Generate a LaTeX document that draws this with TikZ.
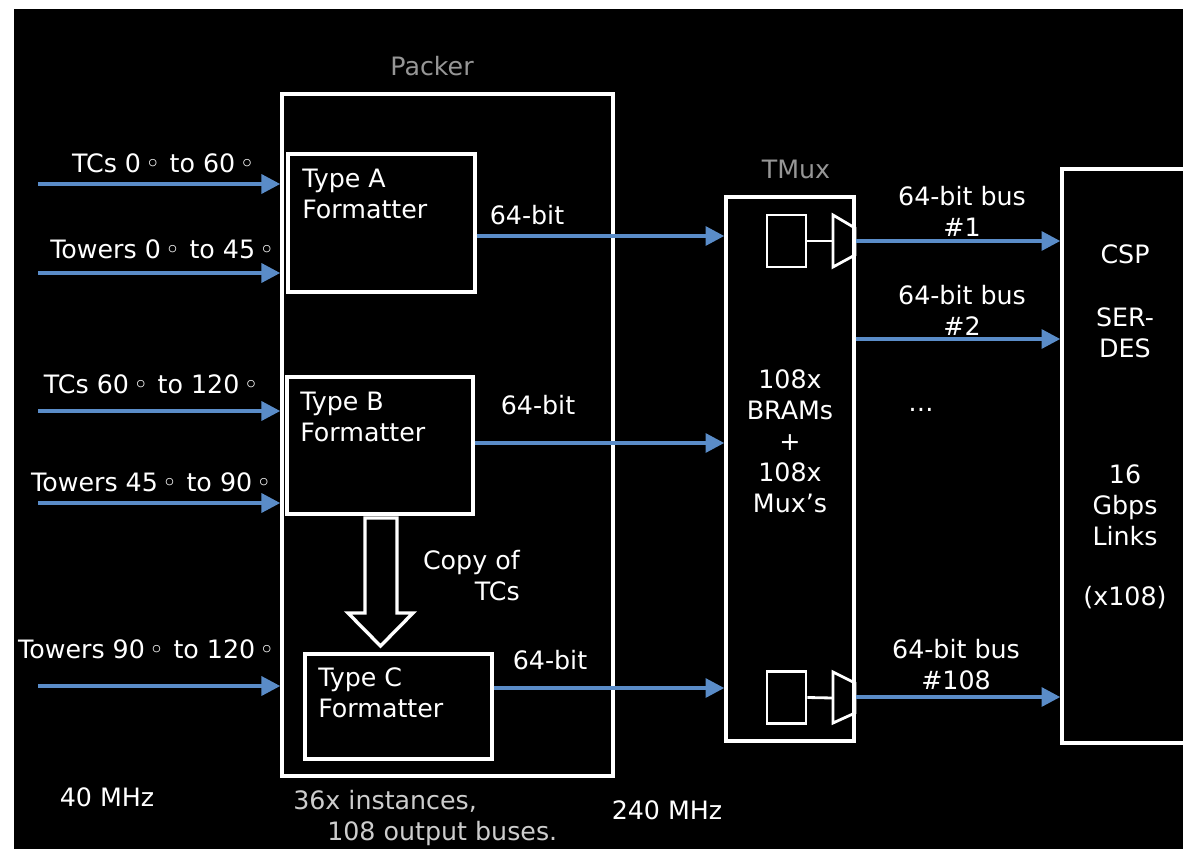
\documentclass[tikz,border=0pt]{standalone}
\usepackage{fontspec}
\setmainfont{DejaVu Sans}
\usetikzlibrary{arrows.meta}
\definecolor{busblue}{RGB}{90,140,200}
\definecolor{titlegray}{RGB}{150,150,150}
\definecolor{notegray}{RGB}{205,205,205}
\newcommand{\ringdeg}{\kern3pt◦\kern1pt}

\begin{document}
\begin{tikzpicture}[x=0.025cm, y=-0.025cm,
  font=\fontsize{18}{22}\selectfont, text=white,
  blk/.style={draw=white, line width=2.4pt, rectangle, inner sep=0pt},
  mem/.style={draw=white, line width=2pt, rectangle, inner sep=0pt, minimum width=0.975cm, minimum height=1.3cm},
  bus/.style={busblue, line width=2.8pt, -{Triangle[length=0.47cm, width=0.47cm]}},
  txt/.style={anchor=base, inner sep=0pt},
  ftxt/.style={anchor=base west, inner sep=0pt, align=left}]
\useasboundingbox (0,0) rectangle (1183,849);
\fill[white] (0,0) rectangle (1183,849);
\fill[black] (14,9) rectangle (1183,849);
\clip (0,0) rectangle (1183,849);

% packer and formatters
\node[blk, minimum width=8.275cm, minimum height=17.05cm] (packer) at (447.5,435) {};
\node[txt, text=titlegray] (packerlbl) at (432,75) {Packer};
\node[blk, minimum width=4.675cm, minimum height=3.45cm] (fmtA) at (381.5,223) {};
\node[blk, minimum width=4.65cm, minimum height=3.425cm] (fmtB) at (380,445.5) {};
\node[blk, minimum width=4.675cm, minimum height=2.625cm] (fmtC) at (398.5,706.5) {};
\node[ftxt] (fmtAtxt) at (302,218) {Type A\\Formatter};
\node[ftxt] (fmtBtxt) at (300,441) {Type B\\Formatter};
\node[ftxt] (fmtCtxt) at (318,717) {Type C\\Formatter};
\draw[white, line width=2.4pt, fill=black] (365,518) -- (397,518) -- (397,613) -- (413,613)
  -- (380.5,646) -- (348,613) -- (365,613) -- cycle;
\node[anchor=base east, inner sep=0pt, align=right] (copylbl) at (520,600) {Copy of\\TCs};

% inputs
\coordinate (in1) at (38,184);
\coordinate (in2) at (38,273);
\coordinate (in3) at (38,411);
\coordinate (in4) at (38,503);
\coordinate (in5) at (38,686);
\foreach \i in {1,...,5}
  \draw[bus] (in\i) -- (in\i -| packer.west);
\node[txt] (in1lbl) at (164,172) {TCs 0\ringdeg{} to 60\ringdeg};
\node[txt] (in2lbl) at (163,258) {Towers 0\ringdeg{} to 45\ringdeg};
\node[txt] (in3lbl) at (152,393) {TCs 60\ringdeg{} to 120\ringdeg};
\node[txt] (in4lbl) at (152,491) {Towers 45\ringdeg{} to 90\ringdeg};
\node[txt] (in5lbl) at (147,658) {Towers 90\ringdeg{} to 120\ringdeg};

% tmux
\node[blk, minimum width=3.2cm, minimum height=13.6cm] (tmux) at (790,469) {};
\node[txt, text=titlegray] (tmuxlbl) at (796,178) {TMux};
\node[txt, align=center] (tmuxtxt) at (790,512) {108x\\BRAMs\\+\\108x\\Mux’s};
\node[mem] (memTop) at (786.5,241) {};
\node[mem] (memBot) at (786.5,697.5) {};
\draw[white, line width=2pt] (memTop.east) -- (833,241);
\draw[white, line width=2pt] (833,215) -- (855,228) -- (855,255) -- (833,267) -- cycle;
\draw[white, line width=2pt] (memBot.east) -- (833,698);
\draw[white, line width=2pt] (833,672) -- (855,683) -- (855,713) -- (833,723) -- cycle;

\draw[bus] (fmtA.east |- 0,236) -- (tmux.west |- 0,236);
\draw[bus] (fmtB.east |- 0,443) -- (tmux.west |- 0,443);
\draw[bus] (fmtC.east |- 0,688) -- (tmux.west |- 0,688);
\node[txt] (bitA) at (527,224) {64-bit};
\node[txt] (bitB) at (538,414) {64-bit};
\node[txt] (bitC) at (550,669) {64-bit};

% csp
\node[blk, minimum width=4.2cm, minimum height=14.35cm] (csp) at (1146,456) {};
\draw[bus] (tmux.east |- 0,241) -- (csp.west |- 0,241);
\draw[bus] (tmux.east |- 0,339) -- (csp.west |- 0,339);
\draw[bus] (tmux.east |- 0,697) -- (csp.west |- 0,697);
\node[txt, align=center] (bus1) at (962,236) {64-bit bus\\\#1};
\node[txt, align=center] (bus2) at (962,335) {64-bit bus\\\#2};
\node[txt, align=center] (bus108) at (956,689) {64-bit bus\\\#108};
\node[txt] (dots) at (921,411) {…};
\node[txt] (csplbl) at (1125,263) {CSP};
\node[txt, align=center] (serdes) at (1125,357) {SER-\\DES};
\node[txt, align=center] (links) at (1125,545) {16\\Gbps\\Links};
\node[txt] (count) at (1125,605) {(x108)};

% clocks
\node[txt] (clkin) at (107,806) {40 MHz};
\node[anchor=base west, inner sep=0pt, align=left, text=notegray] (note) at (293,840) {36x instances,\\\hspace*{0.85cm}108 output buses.};
\node[txt] (clkout) at (667,819) {240 MHz};
\end{tikzpicture}
\end{document}
